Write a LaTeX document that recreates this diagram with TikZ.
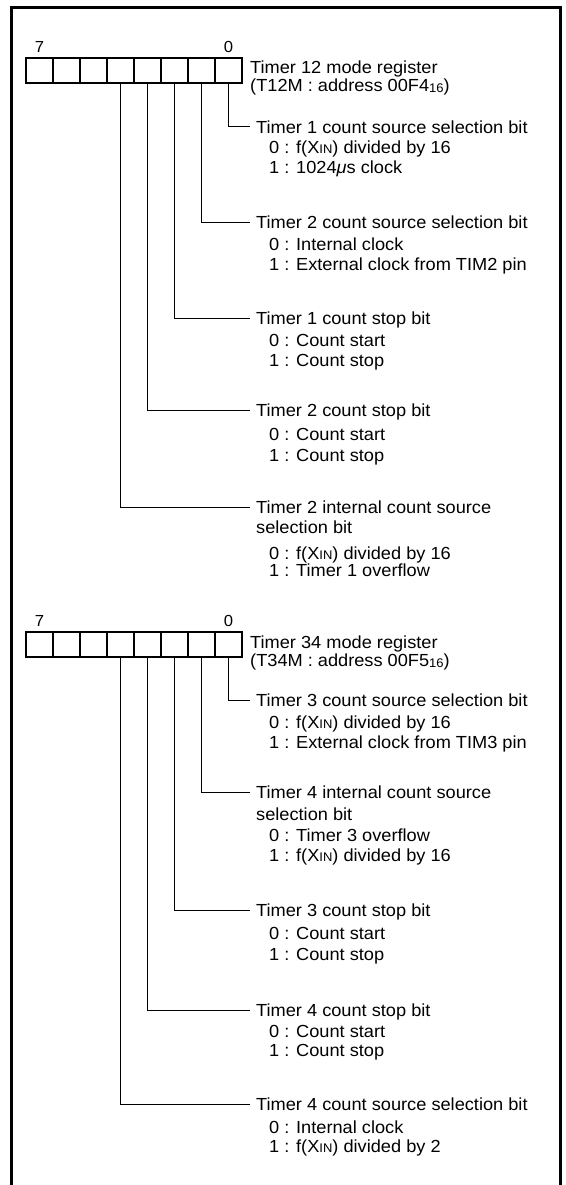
\documentclass[tikz,border=0pt]{standalone}
\usepackage{fontspec}
\setmainfont{Liberation Sans}[FakeStretch=1.04]
\newcommand{\xin}{X{\fontsize{12.5}{12}\selectfont IN}}
\newcommand{\hexsub}{\raisebox{-1pt}{\fontsize{12.5}{12}\selectfont 16}}
\begin{document}
\begin{tikzpicture}[x=1pt,y=-1pt,
  cell/.style={draw, line width=2.2pt, minimum width=27pt, minimum height=25pt, inner sep=0pt, anchor=north west},
  lbl/.style={anchor=west, inner sep=0pt, font=\fontsize{17.5}{20}\selectfont, text height=13.5pt, text depth=1pt},
  lead/.style={line width=1pt, shorten >=6pt},
  bitnum/.style={font=\fontsize{16}{16}\selectfont, inner sep=0pt, anchor=south},
  frame/.style={line width=3pt}]
\useasboundingbox (0,0) rectangle (565,1185);
\coordinate (fbl) at (11,1192);
\coordinate (ftl) at (11,8);
\coordinate (ftr) at (560,8);
\coordinate (fbr) at (560,1192);
\draw[frame] (fbl) -- (ftl) -- (ftr) -- (fbr);

% ---------- register 1 ----------
\foreach \b in {0,...,7} \node[cell] (a\b) at ({25+27*(7-\b)},57) {};
\node[bitnum] (a7n) at ([yshift=4pt]a7.north) {7};
\node[bitnum] (a0n) at ([yshift=4pt]a0.north) {0};
\node[lbl] (at1) at (250,67) {Timer 12 mode register};
\node[lbl] (at2) at (250,85) {(T12M : address 00F4\hexsub)};

\node[lbl] (la0) at (256,127) {Timer 1 count source selection bit};
\node[lbl] (la0z) at (269,147) {0 : f(\xin) divided by 16};
\node[lbl] (la0o) at (269,167) {1 : 1024\textit{μ}s clock};

\node[lbl] (la1) at (256,222) {Timer 2 count source selection bit};
\node[lbl] (la1z) at (269,244) {0 : Internal clock};
\node[lbl] (la1o) at (269,264) {1 : External clock from TIM2 pin};

\node[lbl] (la2) at (256,318) {Timer 1 count stop bit};
\node[lbl] (la2z) at (269,340) {0 : Count start};
\node[lbl] (la2o) at (269,360) {1 : Count stop};

\node[lbl] (la3) at (256,410) {Timer 2 count stop bit};
\node[lbl] (la3z) at (269,434) {0 : Count start};
\node[lbl] (la3o) at (269,455) {1 : Count stop};

\node[lbl] (la4) at (256,507) {Timer 2 internal count source};
\node[lbl] (la4s) at (256,527) {selection bit};
\node[lbl] (la4z) at (269,553) {0 : f(\xin) divided by 16};
\node[lbl] (la4o) at (269,570) {1 : Timer 1 overflow};

\foreach \b in {0,...,4} \draw[lead] (a\b.south) |- (la\b.west);

% ---------- register 2 ----------
\foreach \b in {0,...,7} \node[cell] (b\b) at ({25+27*(7-\b)},631) {};
\node[bitnum] (b7n) at ([yshift=4pt]b7.north) {7};
\node[bitnum] (b0n) at ([yshift=4pt]b0.north) {0};
\node[lbl] (bt1) at (250,642) {Timer 34 mode register};
\node[lbl] (bt2) at (250,660) {(T34M : address 00F5\hexsub)};

\node[lbl] (lb0) at (256,700) {Timer 3 count source selection bit};
\node[lbl] (lb0z) at (269,722) {0 : f(\xin) divided by 16};
\node[lbl] (lb0o) at (269,742) {1 : External clock from TIM3 pin};

\node[lbl] (lb1) at (256,792) {Timer 4 internal count source};
\node[lbl] (lb1s) at (256,814) {selection bit};
\node[lbl] (lb1z) at (269,835) {0 : Timer 3 overflow};
\node[lbl] (lb1o) at (269,855) {1 : f(\xin) divided by 16};

\node[lbl] (lb2) at (256,910) {Timer 3 count stop bit};
\node[lbl] (lb2z) at (269,933) {0 : Count start};
\node[lbl] (lb2o) at (269,954) {1 : Count stop};

\node[lbl] (lb3) at (256,1010) {Timer 4 count stop bit};
\node[lbl] (lb3z) at (269,1031) {0 : Count start};
\node[lbl] (lb3o) at (269,1050) {1 : Count stop};

\node[lbl] (lb4) at (256,1104) {Timer 4 count source selection bit};
\node[lbl] (lb4z) at (269,1127) {0 : Internal clock};
\node[lbl] (lb4o) at (269,1146) {1 : f(\xin) divided by 2};

\foreach \b in {0,...,4} \draw[lead] (b\b.south) |- (lb\b.west);
\end{tikzpicture}
\end{document}
